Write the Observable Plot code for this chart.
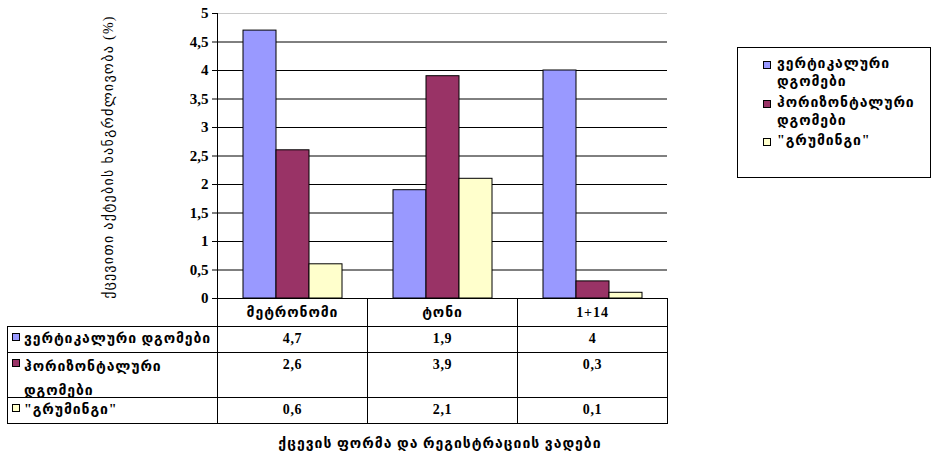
<!DOCTYPE html>
<html>
<head>
<meta charset="utf-8">
<script src="https://cdn.jsdelivr.net/npm/d3@7"></script>
<script src="https://cdn.jsdelivr.net/npm/@observablehq/plot@0.6"></script>
<style>
  body { margin: 0; background: #fff; }
  #wrap { position: relative; width: 931px; height: 457px; overflow: hidden; background: #fff; }
  #chart { position: absolute; left: 0; top: 0; }
  .geo { font-family: "Liberation Serif", "DejaVu Sans", serif; font-weight: bold; font-size: 14px; letter-spacing: 0.9px; color: #000; white-space: nowrap; }
  .sw { display: inline-block; width: 6px; height: 6px; border: 1px solid #000; vertical-align: middle; }
  #legend { position: absolute; left: 737px; top: 47px; width: 194px; height: 131px; box-sizing: border-box; border: 1px solid #000; }
  #legend .item { position: absolute; left: 25px; line-height: 18px; }
  #legend .item .sw { position: absolute; left: 0; top: 6px; }
  #legend .item .txt { position: absolute; left: 14px; top: 0; }
  #ytitle { position: absolute; left: 108px; top: 157px; transform: translate(-50%, -50%) rotate(-90deg); font-weight: normal; letter-spacing: 1.3px; }
  #xtitle { position: absolute; left: 440px; top: 443px; transform: translate(-50%, -50%); letter-spacing: 1px; }
  table#data { position: absolute; left: 7px; top: 298px; border-collapse: collapse; table-layout: fixed; }
  table#data td { border: 1px solid #000; padding: 0; vertical-align: top; }
  table#data td.blank { border: none; }
  table#data td.val { text-align: center; font-family: "Liberation Serif", serif; font-weight: bold; font-size: 14px; letter-spacing: 0.6px; }
  table#data td.head { text-align: center; vertical-align: middle; }
  table#data td.rowhead { position: relative; }
  table#data td.rowhead .sw { position: absolute; left: 4px; top: 6px; }
  table#data td.rowhead .txt { position: absolute; left: 16px; top: 1px; line-height: 22px; }
  table#data tr.tall td.rowhead .txt { top: 2px; line-height: 24px; }
</style>
</head>
<body>
<div id="wrap">
  <div id="chart"></div>
  <div id="ytitle" class="geo"></div>
  <div id="legend"></div>
  <table id="data"></table>
  <div id="xtitle" class="geo"></div>
</div>
<script>
// Observation conditions (categories) and behaviour types (series)
const categories = ["მეტრონომი", "ტონი", "1+14"];
const seriesNames = ["ვერტიკალური დგომები", "ჰორიზონტალური დგომები", "\"გრუმინგი\""];
// two-line wrapping of the series names as used in the legend and table
const seriesLines = [["ვერტიკალური", "დგომები"], ["ჰორიზონტალური", "დგომები"], ["\"გრუმინგი\""]];
const seriesColors = ["#9999ff", "#993366", "#ffffcc"];

// Share of the observation time (%) per behaviour type
const vertical = [4.7, 1.9, 4];
const horizontal = [2.6, 3.9, 0.3];
const grooming = [0.6, 2.1, 0.1];
const seriesValues = [vertical, horizontal, grooming];

const yTicks = [0, 0.5, 1, 1.5, 2, 2.5, 3, 3.5, 4, 4.5, 5];
const yTitle = "ქცევითი აქტების ხანგრძლივობა (%)";
const xTitle = "ქცევის ფორმა და რეგისტრაციის ვადები";

const fmt = (d) => String(d).replace(".", ",");

const rows = [];
seriesNames.forEach((s, i) => {
  categories.forEach((c, j) => rows.push({category: c, series: s, value: seriesValues[i][j]}));
});

const plot = Plot.plot({
  width: 931,
  height: 310,
  marginLeft: 217,
  marginRight: 264,
  marginTop: 13,
  marginBottom: 12,
  style: {fontFamily: "Liberation Serif, serif", fontWeight: "bold", fontSize: "15px", color: "#000", background: "transparent"},
  fx: {domain: categories, padding: 0, axis: null},
  x: {domain: seriesNames, paddingInner: 0, paddingOuter: 0.75, axis: null},
  y: {domain: [0, 5], axis: null},
  color: {domain: seriesNames, range: seriesColors},
  marks: [
    Plot.ruleY(yTicks.filter((d) => d > 0 && d < 5), {stroke: "#000", strokeWidth: 1}),
    Plot.ruleY([5], {stroke: "#c8c8c8", strokeWidth: 1}),
    Plot.barY(rows, {fx: "category", x: "series", y: "value", fill: "series", stroke: "#000", strokeWidth: 1}),
    Plot.ruleY([0], {stroke: "#000", strokeWidth: 1}),
    Plot.frame({anchor: "left", facetAnchor: "left", stroke: "#000"}),
    Plot.axisY({ticks: yTicks, tickFormat: fmt, tickSize: 5, tickPadding: 4, stroke: "#000", label: null})
  ]
});
document.getElementById("chart").appendChild(plot);

document.getElementById("ytitle").textContent = yTitle;
document.getElementById("xtitle").textContent = xTitle;

// legend
const legend = document.getElementById("legend");
const legendTops = [7, 46, 84];
seriesNames.forEach((s, i) => {
  const item = document.createElement("div");
  item.className = "item geo";
  item.style.top = legendTops[i] + "px";
  item.innerHTML = `<span class="sw" style="background:${seriesColors[i]}"></span><span class="txt">${seriesLines[i].join("<br>")}</span>`;
  legend.appendChild(item);
});

// data table under the chart
const table = document.getElementById("data");
const colgroup = document.createElement("colgroup");
[210, 150, 150, 150].forEach((w) => {
  const col = document.createElement("col");
  col.style.width = w + "px";
  colgroup.appendChild(col);
});
table.appendChild(colgroup);
const head = document.createElement("tr");
head.style.height = "28px";
head.innerHTML = `<td class="blank"></td>` + categories.map((c) => `<td class="head geo">${c}</td>`).join("");
table.appendChild(head);
const rowHeights = [26, 45, 26];
seriesNames.forEach((s, i) => {
  const tr = document.createElement("tr");
  tr.style.height = rowHeights[i] + "px";
  if (i === 1) tr.className = "tall";
  const label = i === 1 ? seriesLines[i].join("<br>") : s;
  tr.innerHTML = `<td class="rowhead geo"><span class="sw" style="background:${seriesColors[i]}"></span><span class="txt">${label}</span></td>` +
    seriesValues[i].map((v) => `<td class="val"><div style="line-height:24px">${fmt(v)}</div></td>`).join("");
  table.appendChild(tr);
});
</script>
</body>
</html>
